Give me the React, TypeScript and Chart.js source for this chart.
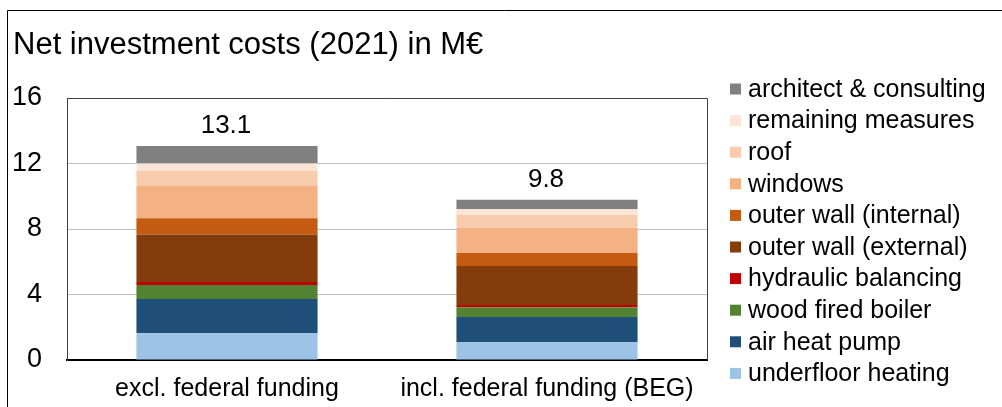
import React, { useEffect, useRef } from "react";
import { Chart, registerables } from "chart.js";

Chart.register(...registerables);

const categories = ["excl. federal funding", "incl. federal funding (BEG)"];
const totalLabels = ["13.1", "9.8"];

// stacked from bottom to top
const underfloorHeating = [1.63, 1.08];
const airHeatPump = [2.1, 1.55];
const woodFiredBoiler = [0.85, 0.59];
const hydraulicBalancing = [0.18, 0.14];
const outerWallExternal = [2.91, 2.38];
const outerWallInternal = [0.98, 0.79];
const windows = [2.0, 1.55];
const roof = [0.91, 0.77];
const remainingMeasures = [0.44, 0.35];
const architectConsulting = [1.07, 0.58];

const yTicks = [0, 4, 8, 12, 16];

const FONT = "'Liberation Sans', Arial, sans-serif";

const seriesDefs = [
  { label: "underfloor heating", data: underfloorHeating, color: "#9DC3E6" },
  { label: "air heat pump", data: airHeatPump, color: "#1F4E79" },
  { label: "wood fired boiler", data: woodFiredBoiler, color: "#548235" },
  { label: "hydraulic balancing", data: hydraulicBalancing, color: "#C00000" },
  { label: "outer wall (external)", data: outerWallExternal, color: "#843C0C" },
  { label: "outer wall (internal)", data: outerWallInternal, color: "#C55A11" },
  { label: "windows", data: windows, color: "#F4B183" },
  { label: "roof", data: roof, color: "#F8CBAD" },
  { label: "remaining measures", data: remainingMeasures, color: "#FBE5D6" },
  { label: "architect & consulting", data: architectConsulting, color: "#808080" },
];

const decorPlugin = {
  id: "decor",
  afterDraw(chart: any) {
    const ctx = chart.ctx;
    const area = chart.chartArea;
    ctx.save();
    // outer frame (left and top visible)
    ctx.strokeStyle = "#000000";
    ctx.lineWidth = 1;
    ctx.beginPath();
    ctx.moveTo(7.5, 407);
    ctx.lineTo(7.5, 10.5);
    ctx.lineTo(1002, 10.5);
    ctx.stroke();

    // plot frame top & right
    ctx.strokeStyle = "#404040";
    ctx.lineWidth = 1;
    ctx.beginPath();
    ctx.moveTo(area.left, Math.round(area.top) + 0.5);
    ctx.lineTo(Math.round(area.right) + 0.5, Math.round(area.top) + 0.5);
    ctx.lineTo(Math.round(area.right) + 0.5, area.bottom);
    ctx.stroke();

    // title
    ctx.fillStyle = "#000000";
    ctx.font = `31px ${FONT}`;
    ctx.textAlign = "left";
    ctx.textBaseline = "alphabetic";
    ctx.fillText("Net investment costs (2021) in M\u20AC", 13, 54);

    // totals above bars
    const lastMeta = chart.getDatasetMeta(chart.data.datasets.length - 1);
    ctx.font = `26px ${FONT}`;
    ctx.textAlign = "center";
    lastMeta.data.forEach((bar: any, i: number) => {
      ctx.fillText(totalLabels[i], bar.x - 1, bar.y - 13);
    });

    // legend (reverse order)
    const ds = chart.data.datasets;
    ctx.font = `25px ${FONT}`;
    ctx.textAlign = "left";
    ctx.textBaseline = "middle";
    for (let k = 0; k < ds.length; k++) {
      const d = ds[ds.length - 1 - k];
      const cy = 89 + k * 31.6;
      ctx.fillStyle = d.backgroundColor;
      ctx.fillRect(730, cy - 5.5, 11, 11);
      ctx.fillStyle = "#000000";
      ctx.fillText(d.label, 748, cy + 1);
    }
    ctx.restore();
  },
};

export default function App() {
  const ref = useRef<HTMLCanvasElement | null>(null);
  useEffect(() => {
    if (!ref.current) return;
    const chart = new Chart(ref.current, {
      type: "bar",
      data: {
        labels: categories,
        datasets: seriesDefs.map((s) => ({
          label: s.label,
          data: s.data,
          backgroundColor: s.color,
          borderWidth: 0,
          categoryPercentage: 1,
          barPercentage: 0.566,
        })),
      },
      options: {
        animation: false,
        responsive: false,
        maintainAspectRatio: false,
        devicePixelRatio: 1,
        layout: { padding: { top: 98, right: 295, left: 0, bottom: 0 } },
        plugins: {
          legend: { display: false },
          title: { display: false },
          tooltip: { enabled: false },
        },
        scales: {
          x: {
            stacked: true,
            grid: { display: false, drawTicks: false },
            border: { display: true, color: "#000000", width: 2 },
            ticks: {
              color: "#000000",
              font: { family: FONT, size: 25 },
              padding: 14,
              maxRotation: 0,
              autoSkip: false,
            },
            afterFit(scale: any) {
              scale.height = 47;
            },
          },
          y: {
            stacked: true,
            min: 0,
            max: 16,
            afterBuildTicks(scale: any) {
              scale.ticks = yTicks.map((v) => ({ value: v }));
            },
            grid: { color: "#BFBFBF", lineWidth: 1, drawTicks: false },
            border: { display: true, color: "#404040", width: 1 },
            ticks: {
              color: "#000000",
              font: { family: FONT, size: 27 },
              padding: 25,
            },
            afterFit(scale: any) {
              scale.width = 67;
            },
          },
        },
      },
      plugins: [decorPlugin],
    });
    return () => chart.destroy();
  }, []);

  return (
    <div style={{ position: "fixed", left: 0, top: 0, width: 1002, height: 407, background: "#ffffff" }}>
      <canvas ref={ref} width={1002} height={407} style={{ width: 1002, height: 407, display: "block" }} />
    </div>
  );
}
